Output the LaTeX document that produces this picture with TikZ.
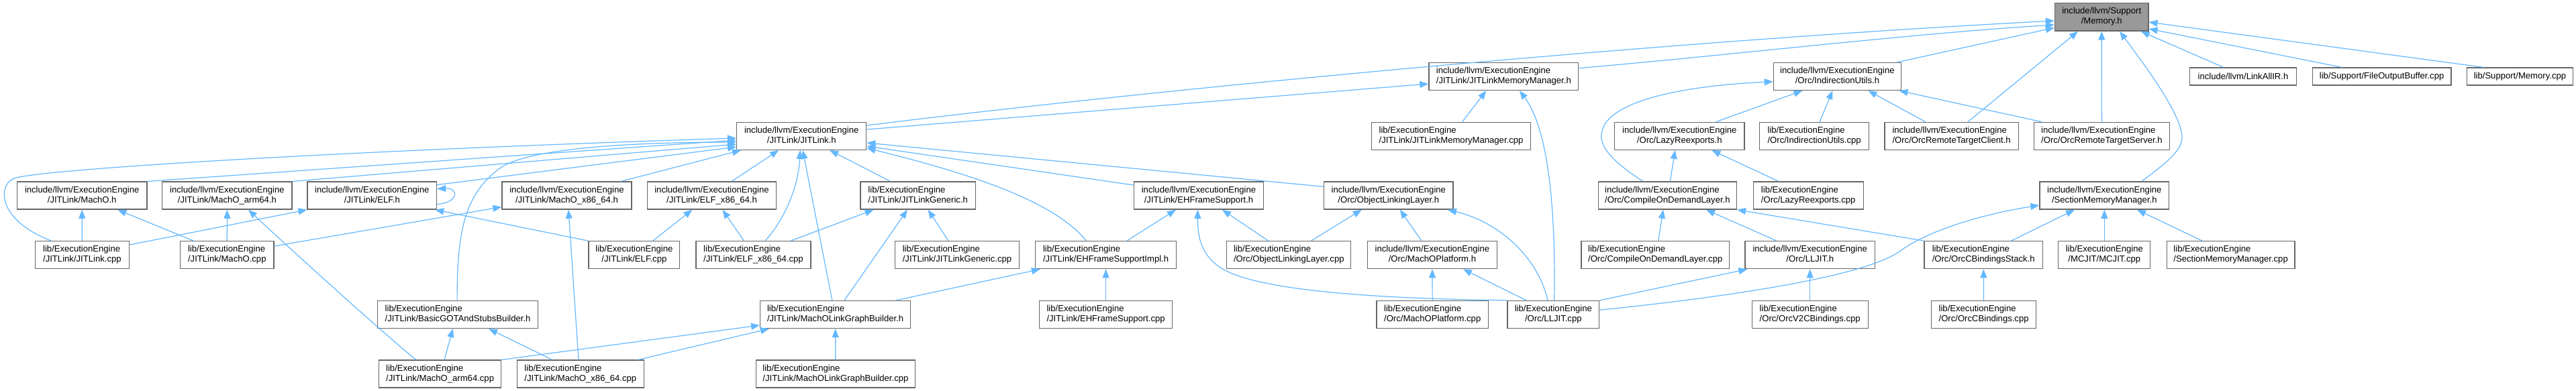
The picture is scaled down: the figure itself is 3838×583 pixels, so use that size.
\documentclass[tikz,border=0pt]{standalone}
\usepackage{fontspec}
\setmainfont{Liberation Sans}
\usetikzlibrary{arrows.meta}
\definecolor{edgeblue}{HTML}{63B8FF}
\definecolor{boxborder}{HTML}{666666}
\definecolor{targetfill}{HTML}{999999}
\newcommand{\lab}[2]{\begin{tabular}{@{}c@{}}\multicolumn{1}{@{}l@{}}{#1}\\#2\end{tabular}}
\newcommand{\inc}{include/llvm/ExecutionEngine}
\newcommand{\lib}{lib/ExecutionEngine}
\tikzset{
  box/.style={draw=boxborder, fill=white, line width=1.3pt, inner sep=0pt,
    minimum height=41pt, font=\fontsize{13.1}{15}\selectfont},
  onebox/.style={box, minimum height=26pt},
  tbox/.style={box, fill=targetfill},
  dep/.style={draw=edgeblue, line width=1.2pt, -{Triangle[length=13pt,width=10pt]}}
}
\begin{document}
\begin{tikzpicture}[x=1pt,y=1pt]
\useasboundingbox (0,0) rectangle (3838,-583);
% row 0
\node[tbox, minimum width=139.5pt, minimum height=41.3pt] (mem) at (3131.2,-25.4) {\lab{include/llvm/Support}{/Memory.h}};
% row 1
\node[box, minimum width=222.7pt] (jmmh) at (2240.3,-114) {\lab{\inc}{/JITLink/JITLinkMemoryManager.h}};
\node[box, minimum width=190pt] (iuh) at (2737.4,-114) {\lab{\inc}{/Orc/IndirectionUtils.h}};
\node[onebox, minimum width=159.3pt] (linkall) at (3342,-114) {include/llvm/LinkAllIR.h};
\node[onebox, minimum width=206.8pt] (fob) at (3548.6,-114) {lib/Support/FileOutputBuffer.cpp};
\node[onebox, minimum width=157.6pt] (memcpp) at (3754.4,-114) {lib/Support/Memory.cpp};
% row 2
\node[box, minimum width=193pt] (jlh) at (1194.2,-202.8) {\lab{\inc}{/JITLink/JITLink.h}};
\node[box, minimum width=237.2pt] (jmmcpp) at (2162,-202.8) {\lab{\lib}{/JITLink/JITLinkMemoryManager.cpp}};
\node[box, minimum width=193.3pt] (lrh) at (2502.3,-202.8) {\lab{\inc}{/Orc/LazyReexports.h}};
\node[box, minimum width=162.6pt] (iucpp) at (2703.1,-202.8) {\lab{\lib}{/Orc/IndirectionUtils.cpp}};
\node[box, minimum width=199.2pt] (ortc) at (2907.6,-202.8) {\lab{\inc}{/Orc/OrcRemoteTargetClient.h}};
\node[box, minimum width=202pt] (orts) at (3131.4,-202.8) {\lab{\inc}{/Orc/OrcRemoteTargetServer.h}};
% row 3
\node[box, minimum width=193.3pt] (machoh) at (122.2,-291.6) {\lab{\inc}{/JITLink/MachO.h}};
\node[box, minimum width=193.3pt] (marmh) at (338.4,-291.6) {\lab{\inc}{/JITLink/MachO\_arm64.h}};
\node[box, minimum width=192.5pt] (elfh) at (554.3,-291.6) {\lab{\inc}{/JITLink/ELF.h}};
\node[box, minimum width=193pt] (mx86h) at (844.5,-291.6) {\lab{\inc}{/JITLink/MachO\_x86\_64.h}};
\node[box, minimum width=192.4pt] (elfx86h) at (1060.5,-291.6) {\lab{\inc}{/JITLink/ELF\_x86\_64.h}};
\node[box, minimum width=171.5pt] (jlgh) at (1367.7,-291.6) {\lab{\lib}{/JITLink/JITLinkGeneric.h}};
\node[box, minimum width=193.3pt] (ehfh) at (1786,-291.6) {\lab{\inc}{/JITLink/EHFrameSupport.h}};
\node[box, minimum width=192.4pt] (olh) at (2068.8,-291.6) {\lab{\inc}{/Orc/ObjectLinkingLayer.h}};
\node[box, minimum width=206pt] (codh) at (2484.4,-291.6) {\lab{\inc}{/Orc/CompileOnDemandLayer.h}};
\node[box, minimum width=163.9pt] (lrcpp) at (2694.2,-291.6) {\lab{\lib}{/Orc/LazyReexports.cpp}};
\node[box, minimum width=192.6pt] (smmh) at (3135.3,-291.6) {\lab{\inc}{/SectionMemoryManager.h}};
% row 4
\node[box, minimum width=140.3pt] (jlcpp) at (122.4,-380.2) {\lab{\lib}{/JITLink/JITLink.cpp}};
\node[box, minimum width=139.5pt] (machocpp) at (338.3,-380.2) {\lab{\lib}{/JITLink/MachO.cpp}};
\node[box, minimum width=135.8pt] (elfcpp) at (944.9,-380.2) {\lab{\lib}{/JITLink/ELF.cpp}};
\node[box, minimum width=171pt] (elfx86cpp) at (1122.5,-380.2) {\lab{\lib}{/JITLink/ELF\_x86\_64.cpp}};
\node[box, minimum width=185pt] (jlgcpp) at (1426,-380.2) {\lab{\lib}{/JITLink/JITLinkGeneric.cpp}};
\node[box, minimum width=210pt] (ehfimplh) at (1647.6,-380.2) {\lab{\lib}{/JITLink/EHFrameSupportImpl.h}};
\node[box, minimum width=185pt] (olcpp) at (1920.3,-380.2) {\lab{\lib}{/Orc/ObjectLinkingLayer.cpp}};
\node[box, minimum width=192.6pt] (mpfh) at (2133.9,-380.2) {\lab{\inc}{/Orc/MachOPlatform.h}};
\node[box, minimum width=220.6pt] (codcpp) at (2466.2,-380.2) {\lab{\lib}{/Orc/CompileOnDemandLayer.cpp}};
\node[box, minimum width=193.4pt] (lljith) at (2696.7,-380.2) {\lab{\inc}{/Orc/LLJIT.h}};
\node[box, minimum width=176.7pt] (ocbsh) at (2955.2,-380.2) {\lab{\lib}{/Orc/OrcCBindingsStack.h}};
\node[box, minimum width=137pt] (mcjit) at (3135.3,-380.2) {\lab{\lib}{/MCJIT/MCJIT.cpp}};
\node[box, minimum width=190.7pt] (smmcpp) at (3323.6,-380.2) {\lab{\lib}{/SectionMemoryManager.cpp}};
% row 5
\node[box, minimum width=239.2pt] (bgsb) at (682.1,-469) {\lab{\lib}{/JITLink/BasicGOTAndStubsBuilder.h}};
\node[box, minimum width=223.8pt] (molgbh) at (1244.6,-469) {\lab{\lib}{/JITLink/MachOLinkGraphBuilder.h}};
\node[box, minimum width=198.3pt] (ehfcpp) at (1647.6,-469) {\lab{\lib}{/JITLink/EHFrameSupport.cpp}};
\node[box, minimum width=166.5pt] (mpfcpp) at (2134.2,-469) {\lab{\lib}{/Orc/MachOPlatform.cpp}};
\node[box, minimum width=136.7pt] (lljitcpp) at (2314.3,-469) {\lab{\lib}{/Orc/LLJIT.cpp}};
\node[box, minimum width=172.9pt] (orcv2) at (2696.7,-469) {\lab{\lib}{/Orc/OrcV2CBindings.cpp}};
\node[box, minimum width=156.2pt] (ocbcpp) at (2955.6,-469) {\lab{\lib}{/Orc/OrcCBindings.cpp}};
% row 6
\node[box, minimum width=182.4pt] (marmcpp) at (655.6,-557.6) {\lab{\lib}{/JITLink/MachO\_arm64.cpp}};
\node[box, minimum width=188.8pt] (mx86cpp) at (864.8,-557.6) {\lab{\lib}{/JITLink/MachO\_x86\_64.cpp}};
\node[box, minimum width=237.2pt] (molgbcpp) at (1244.9,-557.6) {\lab{\lib}{/JITLink/MachOLinkGraphBuilder.cpp}};

% ---- edges into Memory.h
\draw[dep] ([yshift=15.8pt]jlh.east) .. controls (1750,-130) and (2500,-60) .. ([yshift=-5.6pt]mem.west);
\draw[dep] ([yshift=12.3pt]jmmh.east) .. controls (2600,-80) and (2850,-50) .. ([yshift=-11.6pt]mem.west);
\draw[dep] ([xshift=89pt]iuh.north) -- ([yshift=-16pt]mem.west);
\draw[dep] ([xshift=24.4pt]ortc.north) -- ([xshift=-35.2pt]mem.south);
\draw[dep] (orts) -- (mem);
\draw[dep] ([xshift=55.3pt]smmh.north) .. controls (3225,-245) and (3251,-225) .. (3251,-205) .. controls (3251,-170) and (3190,-90) .. ([xshift=26.8pt]mem.south);
\draw[dep] ([xshift=-29.3pt]linkall.north) -- ([xshift=58.5pt]mem.south);
\draw[dep] ([xshift=-59.6pt]fob.north) -- ([yshift=-17.6pt]mem.east);
\draw[dep] ([xshift=-54.4pt]memcpp.north) -- ([yshift=-7.6pt]mem.east);
% ---- JITLinkMemoryManager.h
\draw[dep] ([yshift=9.8pt]jlh.east) -- ([yshift=-11pt]jmmh.west);
\draw[dep] ([xshift=16.6pt]jmmcpp.north) -- ([xshift=-26pt]jmmh.south);
\draw[dep] ([xshift=1.4pt]lljitcpp.north) .. controls (2318,-300) and (2305,-190) .. ([xshift=23.7pt]jmmh.south);
% ---- IndirectionUtils.h
\draw[dep] ([xshift=-36.1pt]codh.north) .. controls (2400,-240) and (2380,-215) .. (2387,-195) .. controls (2395,-160) and (2470,-130) .. ([yshift=-7.7pt]iuh.west);
\draw[dep] ([xshift=54.4pt]lrh.north) -- ([xshift=-52pt]iuh.south);
\draw[dep] ([xshift=8pt]iucpp.north) -- ([xshift=-7pt]iuh.south);
\draw[dep] ([xshift=-39pt]ortc.north) -- ([xshift=46pt]iuh.south);
\draw[dep] ([xshift=-89.8pt]orts.north) -- ([xshift=92pt]iuh.south);
% ---- LazyReexports.h
\draw[dep] ([xshift=3.9pt]codh.north) -- ([xshift=-6.6pt]lrh.south);
\draw[dep] ([xshift=-44.2pt]lrcpp.north) -- ([xshift=48pt]lrh.south);
% ---- JITLink.h
\draw[dep] (machoh.north east) -- ([yshift=-6.2pt]jlh.west);
\draw[dep] (marmh.north east) -- ([yshift=-12.2pt]jlh.west);
\draw[dep] ([yshift=16pt]elfh.east) -- ([yshift=-16.2pt]jlh.west);
\draw[dep] ([xshift=80.5pt]mx86h.north) -- ([xshift=7pt]jlh.south west);
\draw[dep] ([xshift=-45.9pt]jlcpp.north) .. controls (0,-330) and (-5,-280) .. (19,-266.7) .. controls (43,-253.4) and (500,-225) .. ([yshift=-3.2pt]jlh.west);
\draw[dep] ([xshift=-1pt]bgsb.north) .. controls (681,-350) and (690,-290) .. (746,-250) .. controls (790,-220) and (950,-212) .. ([yshift=-9.2pt]jlh.west);
\draw[dep] ([xshift=29.5pt]elfx86h.north) -- ([xshift=-34pt]jlh.south);
\draw[dep] ([xshift=-41pt]jlgh.north) -- ([xshift=42pt]jlh.south);
\draw[dep] ([yshift=13.3pt]olh.west) -- ([yshift=-10.2pt]jlh.east);
\draw[dep] ([yshift=15.6pt]ehfh.west) -- ([yshift=-15.2pt]jlh.east);
\draw[dep] ([xshift=-29pt]ehfimplh.north) .. controls (1570,-300) and (1450,-260) .. ([yshift=-18pt]jlh.east);
\draw[dep] ([xshift=17.5pt]elfx86cpp.north) .. controls (1175,-320) and (1190,-270) .. ([xshift=-2pt]jlh.south);
\draw[dep] ([xshift=-4.8pt]molgbh.north) -- ([xshift=1.8pt]jlh.south);
% ---- row 4 -> row 3
\draw[dep] (jlcpp) -- (machoh);
\draw[dep] ([yshift=15.2pt]jlcpp.east) -- (elfh.south west);
\draw[dep] ([xshift=-50pt]machocpp.north) -- ([xshift=53pt]machoh.south);
\draw[dep] (machocpp) -- (marmh);
\draw[dep] ([yshift=13.2pt]machocpp.east) -- ([yshift=-17pt]mx86h.west);
\draw[dep] (elfcpp.north west) -- ([xshift=-3pt]elfh.south east);
\draw[dep] ([xshift=27.7pt]elfcpp.north) -- ([xshift=-29pt]elfx86h.south);
\draw[dep] ([xshift=-14pt]elfx86cpp.north) -- ([xshift=16pt]elfx86h.south);
\draw[dep] ([xshift=55.8pt]elfx86cpp.north) -- ([xshift=-66pt]jlgh.south);
\draw[dep] ([xshift=-13pt]jlgcpp.north) -- ([xshift=15pt]jlgh.south);
\draw[dep] ([xshift=31.4pt]ehfimplh.north) -- ([xshift=-34pt]ehfh.south);
\draw[dep] ([xshift=-30.6pt]olcpp.north) -- ([xshift=35pt]ehfh.south);
\draw[dep] ([xshift=33.1pt]olcpp.north) -- ([xshift=-40pt]olh.south);
\draw[dep] ([xshift=-16pt]mpfh.north) -- ([xshift=17pt]olh.south);
\draw[dep] ([xshift=-49.7pt]lljith.north) -- ([xshift=57.6pt]codh.south);
\draw[dep] ([xshift=4.5pt]codcpp.north) -- ([xshift=-6.4pt]codh.south);
\draw[dep] (ocbsh.north west) -- (codh.south east);
\draw[dep] ([xshift=41.4pt]ocbsh.north) -- ([xshift=-44.3pt]smmh.south);
\draw[dep] (mcjit) -- (smmh);
\draw[dep] ([xshift=-42.6pt]smmcpp.north) -- ([xshift=48.7pt]smmh.south);
% ---- row 5
\draw[dep] ([xshift=13.4pt]molgbh.north) -- ([xshift=-15.7pt]jlgh.south);
\draw[dep] ([xshift=90.2pt]molgbh.north) -- ([xshift=8pt]ehfimplh.south west);
\draw[dep] (ehfcpp) -- (ehfimplh);
\draw[dep] (lljitcpp.north west) .. controls (2100,-446) and (1880,-438) .. (1820,-400) .. controls (1790,-381) and (1784.4,-355) .. ([xshift=-1.6pt]ehfh.south);
\draw[dep] ([xshift=-8.3pt]lljitcpp.north) .. controls (2290,-380) and (2230,-330) .. ([xshift=88pt]olh.south);
\draw[dep] ([xshift=-40.3pt]lljitcpp.north) -- ([xshift=46pt]mpfh.south);
\draw[dep] (mpfcpp) -- (mpfh);
\draw[dep] (lljitcpp.north east) -- ([xshift=4pt]lljith.south west);
\draw[dep] ([yshift=6.7pt]lljitcpp.east) .. controls (2600,-440) and (2780,-410) .. (2830,-375) .. controls (2870,-345) and (2950,-320) .. ([yshift=-14.4pt]smmh.west);
\draw[dep] (orcv2) -- (lljith);
\draw[dep] (ocbcpp) -- (ocbsh);
% ---- row 6
\draw[dep] ([xshift=-35.6pt]marmcpp.north) .. controls (580,-505) and (420,-360) .. ([xshift=31.6pt]marmh.south);
\draw[dep] ([xshift=6.4pt]marmcpp.north) -- ([xshift=-7.4pt]bgsb.south);
\draw[dep] (marmcpp.north east) -- ([yshift=-16pt]molgbh.west);
\draw[dep] ([xshift=-2.8pt]mx86cpp.north) -- ([xshift=2.5pt]mx86h.south);
\draw[dep] ([xshift=-42pt]mx86cpp.north) -- ([xshift=46pt]bgsb.south);
\draw[dep] ([xshift=85.5pt]mx86cpp.north) -- ([xshift=14pt]molgbh.south west);
\draw[dep] (molgbcpp) -- (molgbh);
% ---- self loop on ELF.h
\draw[dep] ([yshift=-13pt]elfh.east) .. controls (684,-302) and (684,-280) .. ([yshift=10pt]elfh.east);
\end{tikzpicture}
\end{document}
